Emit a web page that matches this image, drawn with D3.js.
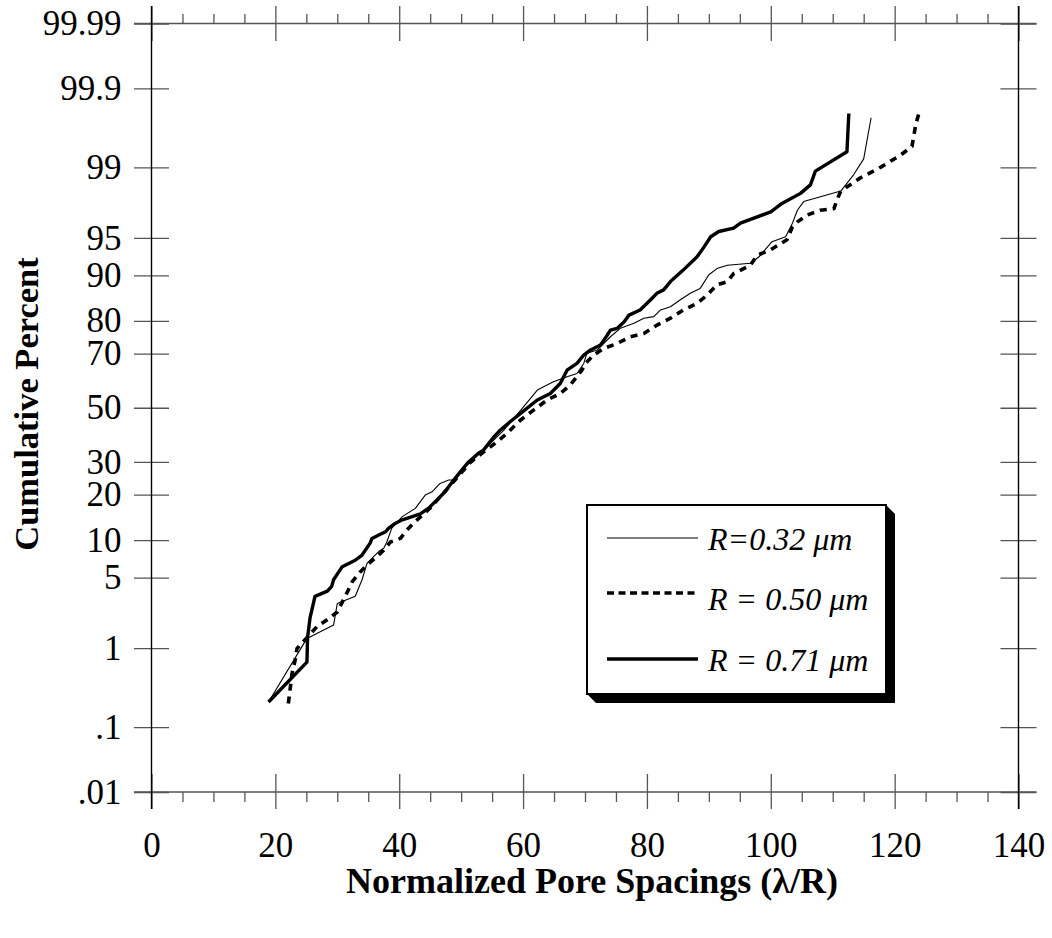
<!DOCTYPE html>
<html>
<head>
<meta charset="utf-8">
<script src="https://cdn.jsdelivr.net/npm/d3@7"></script>
<style>
  html, body { margin: 0; padding: 0; background: #fff; }
  svg { display: block; }
</style>
</head>
<body>
<svg id="chart" width="1052" height="938"></svg>
<script>
// ---------- data ----------
const seriesNames = ["R=0.32 \u03bcm", "R = 0.50 \u03bcm", "R = 0.71 \u03bcm"];

const spacingR032 = [18.9,25.1,29.4,30.0,32.9,34.0,34.8,35.9,36.7,37.5,38.0,38.8,40.5,42.6,44.2,45.3,46.6,48.0,49.1,50.1,51.8,53.6,56.9,60.1,62.3,64.9,67.1,68.7,69.8,70.3,72.0,74.1,75.7,77.9,79.5,81.1,82.2,83.8,85.4,87.0,88.6,90.0,91.3,93.0,96.7,98.1,100.2,102.4,103.5,104.3,105.3,111.3,113.4,115.0,116.2];
const percentR032 = [0.22,1.28,1.77,2.9,3.4,4.8,6.6,7.5,8.2,8.7,9.7,12.2,14.6,16.5,19.9,20.8,23.2,24.2,24.2,27.3,30.6,34.1,41.4,50.4,56.8,59.9,61.8,63.0,66.6,70.1,71.2,75.4,77.9,79.3,80.7,81.1,82.8,83.6,85.2,86.6,87.6,90.1,91.1,91.6,91.9,92.8,94.6,95.1,96.3,97.2,97.7,98.2,98.8,99.2,99.75];

const spacingR050 = [22.1,22.4,22.7,23.2,23.5,26.7,28.3,30.0,30.8,31.8,32.4,33.7,35.1,36.4,37.5,38.6,40.2,41.0,42.3,45.0,48.3,51.5,53.6,55.8,57.4,59.6,61.7,63.9,66.0,67.6,68.7,69.5,70.1,71.4,73.0,75.2,77.3,79.5,81.6,83.8,85.9,88.1,89.7,91.3,93.0,94.0,96.7,97.8,100.0,102.6,103.5,104.3,105.9,108.0,110.2,110.7,111.3,114.5,117.7,121.0,122.8,123.4,123.9];
const percentR050 = [0.21,0.33,0.51,0.73,0.99,1.7,2.0,2.4,3.0,3.9,4.6,5.6,6.6,7.5,8.4,9.7,10.3,11.5,13.2,16.6,22.7,29.9,33.4,37.1,40.2,45.3,49.1,53.0,55.5,58.7,61.8,64.2,66.6,69.5,71.7,73.3,75.4,76.4,78.8,80.7,82.8,84.4,86.2,88.3,88.9,90.3,91.6,93.0,93.7,94.8,96.0,96.4,96.9,97.2,97.3,97.8,98.2,98.7,99.0,99.28,99.43,99.69,99.78];

const spacingR071 = [18.9,25.1,25.2,25.6,26.4,28.4,29.1,29.4,30.8,32.9,34.0,35.3,35.6,36.7,37.8,38.3,39.4,40.5,42.1,43.4,44.7,46.1,47.4,48.8,49.9,51.2,52.8,53.6,55.3,56.3,57.9,59.6,62.3,64.4,66.0,67.1,68.7,69.8,70.9,72.5,73.6,74.1,75.2,76.3,77.1,78.9,80.6,81.6,82.7,83.8,85.9,88.1,89.2,90.3,91.6,94.0,95.1,100.0,101.8,104.8,106.4,107.2,112.3,112.6];
const percentR071 = [0.22,0.69,1.3,2.1,3.4,3.8,4.2,4.8,6.2,7.0,7.7,9.5,10.3,10.9,11.5,12.2,13.2,13.9,14.6,15.2,16.5,18.6,20.8,24.2,26.8,30.0,33.0,34.1,38.9,41.4,44.6,47.8,53.0,55.5,59.3,64.2,66.6,69.5,71.2,72.8,75.9,77.4,77.9,79.7,81.5,82.8,85.2,86.6,87.3,88.9,90.9,92.8,94.0,95.1,95.6,95.9,96.3,97.1,97.6,98.1,98.45,98.9,99.34,99.78];

const yTickValues = [0.01,0.1,1,5,10,20,30,50,70,80,90,95,99,99.9,99.99];
const yTickLabels = [".01",".1","1","5","10","20","30","50","70","80","90","95","99","99.9","99.99"];
const xTickValues = [0,20,40,60,80,100,120,140];
const xMinorTicks = [5,10,15,25,30,35,45,50,55,65,70,75,85,90,95,105,110,115,125,130,135];

// ---------- probit (inverse normal CDF, Acklam) ----------
function probit(p) {
  const a = [-3.969683028665376e+01, 2.209460984245205e+02, -2.759285104469687e+02, 1.383577518672690e+02, -3.066479806614716e+01, 2.506628277459239e+00];
  const b = [-5.447609879822406e+01, 1.615858368580409e+02, -1.556989798598866e+02, 6.680131188771972e+01, -1.328068155288572e+01];
  const c = [-7.784894002430293e-03, -3.223964580411365e-01, -2.400758277161838e+00, -2.549671750376839e+00, 4.374664141464968e+00, 2.938163982698783e+00];
  const d = [7.784695709041462e-03, 3.224671290700398e-01, 2.445134137142996e+00, 3.754408661907416e+00];
  const pl = 0.02425, ph = 1 - pl;
  let q, r;
  if (p < pl) {
    q = Math.sqrt(-2 * Math.log(p));
    return (((((c[0]*q+c[1])*q+c[2])*q+c[3])*q+c[4])*q+c[5]) / ((((d[0]*q+d[1])*q+d[2])*q+d[3])*q+1);
  } else if (p <= ph) {
    q = p - 0.5; r = q*q;
    return (((((a[0]*r+a[1])*r+a[2])*r+a[3])*r+a[4])*r+a[5])*q / (((((b[0]*r+b[1])*r+b[2])*r+b[3])*r+b[4])*r+1);
  } else {
    q = Math.sqrt(-2 * Math.log(1 - p));
    return -(((((c[0]*q+c[1])*q+c[2])*q+c[3])*q+c[4])*q+c[5]) / ((((d[0]*q+d[1])*q+d[2])*q+d[3])*q+1);
  }
}

// ---------- layout ----------
const L = 151.5, R = 1018.5, T = 23.5, B = 792;
const svg = d3.select("#chart");
const FONT = "'Liberation Serif', 'Times New Roman', serif";
const TICK = "#555";
const TICKFS = 35;

const x = d3.scaleLinear().domain([0, 140]).range([L, R]);
const yz = d3.scaleLinear().domain([probit(0.0001), probit(0.9999)]).range([B, T]);
const yp = pct => yz(probit(pct / 100));

// ---------- axes ----------
function styleAxis(g) {
  g.select(".domain").remove();
  g.selectAll(".tick line").attr("stroke", TICK).attr("stroke-width", 1.3);
  g.selectAll("text").attr("font-family", FONT).attr("font-size", TICKFS).attr("fill", "#000");
}

// left
const gl = svg.append("g").attr("transform", `translate(${L},0)`)
  .call(d3.axisLeft(yz).tickValues(yTickValues.map(v => probit(v / 100)))
    .tickFormat((d, i) => yTickLabels[i]).tickSize(0).tickPadding(30));
styleAxis(gl);
gl.selectAll(".tick line").attr("x1", -17.5).attr("x2", 17.5);

// right
const gr = svg.append("g").attr("transform", `translate(${R},0)`)
  .call(d3.axisRight(yz).tickValues(yTickValues.map(v => probit(v / 100)))
    .tickFormat("").tickSize(0));
styleAxis(gr);
gr.selectAll(".tick line").attr("x1", -18).attr("x2", 18);

// bottom major
const gb = svg.append("g").attr("transform", `translate(0,${B})`)
  .call(d3.axisBottom(x).tickValues(xTickValues).tickFormat(d3.format("d")).tickSize(0).tickPadding(40));
styleAxis(gb);
gb.selectAll(".tick line").attr("y1", -18).attr("y2", 17);
// bottom minor
const gbm = svg.append("g").attr("transform", `translate(0,${B})`)
  .call(d3.axisBottom(x).tickValues(xMinorTicks).tickFormat("").tickSize(10));
styleAxis(gbm);

// top major
const gt = svg.append("g").attr("transform", `translate(0,${T})`)
  .call(d3.axisTop(x).tickValues(xTickValues).tickFormat("").tickSize(0));
styleAxis(gt);
gt.selectAll(".tick line").attr("y1", -17.5).attr("y2", 17.5);
// top minor
const gtm = svg.append("g").attr("transform", `translate(0,${T})`)
  .call(d3.axisTop(x).tickValues(xMinorTicks).tickFormat("").tickSize(9.5));
styleAxis(gtm);

// frame lines
svg.append("line").attr("x1", L - 17.5).attr("x2", R + 18).attr("y1", T).attr("y2", T).attr("stroke", TICK).attr("stroke-width", 1.3);
svg.append("line").attr("x1", L - 17.5).attr("x2", R + 18).attr("y1", B).attr("y2", B).attr("stroke", TICK).attr("stroke-width", 1.3);
svg.append("line").attr("x1", L).attr("x2", L).attr("y1", T - 17.5).attr("y2", B + 17).attr("stroke", "#000").attr("stroke-width", 1.4);
svg.append("line").attr("x1", R).attr("x2", R).attr("y1", T - 17.5).attr("y2", B + 17).attr("stroke", "#000").attr("stroke-width", 1.4);

// ---------- series ----------
const line = d3.line().x(d => x(d[0])).y(d => yp(d[1]));
const series = [
  { xs: spacingR032, ps: percentR032, w: 1.1, dash: null, ldash: null },
  { xs: spacingR050, ps: percentR050, w: 3.6, dash: "7,6", ldash: "7,4.5" },
  { xs: spacingR071, ps: percentR071, w: 3.4, dash: null, ldash: null }
];
series.forEach(s => {
  const pts = s.xs.map((v, i) => [v, s.ps[i]]);
  svg.append("path").datum(pts).attr("d", line)
    .attr("fill", "none").attr("stroke", "#000").attr("stroke-width", s.w)
    .attr("stroke-linejoin", "round")
    .attr("stroke-dasharray", s.dash);
});

// ---------- titles ----------
svg.append("text").attr("x", 592).attr("y", 893).attr("text-anchor", "middle")
  .attr("font-family", FONT).attr("font-weight", "bold").attr("font-size", 36)
  .text("Normalized Pore Spacings (\u03bb/R)");
svg.append("text").attr("transform", "translate(38,404) rotate(-90)").attr("text-anchor", "middle")
  .attr("font-family", FONT).attr("font-weight", "bold").attr("font-size", 34.5)
  .text("Cumulative Percent");

// ---------- legend ----------
const lg = { x0: 587, y0: 505, x1: 886, y1: 694, sh: 9 };
svg.append("polygon")
  .attr("points", [[lg.x1, lg.y0], [lg.x1 + lg.sh, lg.y0 + lg.sh], [lg.x1 + lg.sh, lg.y1 + lg.sh],
                   [lg.x0 + lg.sh, lg.y1 + lg.sh], [lg.x0, lg.y1]].map(p => p.join(",")).join(" "))
  .attr("fill", "#000");
svg.append("rect").attr("x", lg.x0).attr("y", lg.y0).attr("width", lg.x1 - lg.x0).attr("height", lg.y1 - lg.y0)
  .attr("fill", "#fff").attr("stroke", "#000").attr("stroke-width", 2);
const legLineY = [538, 593, 659];
const legTextY = [550, 610, 671];
series.forEach((s, i) => {
  svg.append("line").attr("x1", 607).attr("x2", 698).attr("y1", legLineY[i]).attr("y2", legLineY[i])
    .attr("stroke", "#000").attr("stroke-width", i === 0 ? 1.1 : 3.4).attr("stroke-dasharray", s.ldash);
  svg.append("text").attr("x", 708).attr("y", legTextY[i])
    .attr("font-family", FONT).attr("font-style", "italic").attr("font-size", 32)
    .text(seriesNames[i]);
});
</script>
</body>
</html>
